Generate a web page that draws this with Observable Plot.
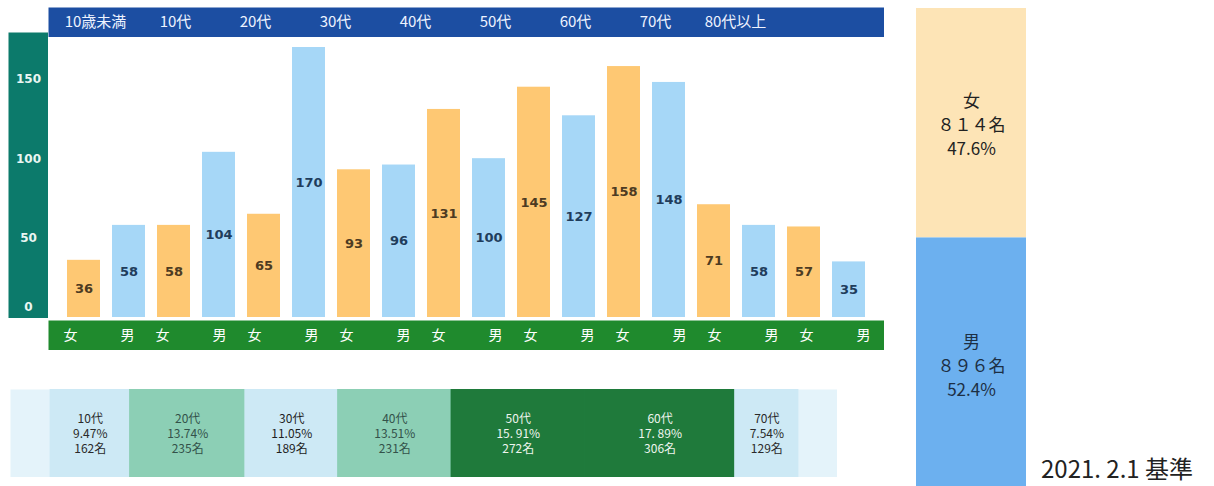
<!DOCTYPE html>
<html>
<head>
<meta charset="utf-8">
<script src="https://cdn.jsdelivr.net/npm/d3@7"></script>
<script src="https://cdn.jsdelivr.net/npm/@observablehq/plot@0.6"></script>
<style>
html, body { margin: 0; padding: 0; background: #fff; overflow: hidden; }
#root { position: relative; width: 1214px; height: 486px; overflow: hidden; background: #fff; font-family: "Noto Sans CJK JP", sans-serif; }
#root > * { position: absolute; }
#caption { left: 1041px; top: 450px; font-size: 24px; color: #222; white-space: nowrap; font-family: "Noto Sans CJK JP", sans-serif; }
</style>
</head>
<body>
<div id="root"></div>
<script>
// ---- data ----
const ageGroups = ["10歳未満", "10代", "20代", "30代", "40代", "50代", "60代", "70代", "80代以上"];
const genders = ["女", "男"];
const femaleCounts = [36, 58, 65, 93, 131, 145, 158, 71, 57];
const maleCounts = [58, 104, 170, 96, 100, 127, 148, 58, 35];
const yTicks = [0, 50, 100, 150];
const tableGroups = ["10代", "20代", "30代", "40代", "50代", "60代", "70代"];
const tableShares = ["9.47%", "13.74%", "11.05%", "13.51%", "15. 91%", "17. 89%", "7.54%"];
const tableCounts = [162, 235, 189, 231, 272, 306, 129];
const genderTotals = [814, 896];
const genderShares = ["47.6%", "52.4%"];
const captionText = "2021. 2.1 基準";

// ---- derived tables ----
const bars = ageGroups.flatMap((g, i) => [
  {key: g + "-女", group: g, gender: "女", value: femaleCounts[i]},
  {key: g + "-男", group: g, gender: "男", value: maleCounts[i]}
]);
const xDomain = bars.map(d => d.key);
const tableData = tableGroups.map((g, i) => ({group: g, share: tableShares[i], count: tableCounts[i]}));
const tableTotal = d3.sum(tableCounts);
const genderData = genders.map((g, i) => ({gender: g, count: genderTotals[i], share: genderShares[i]}));
const genderTotal = d3.sum(genderTotals);
const fullWidth = s => String(s).replace(/\d/g, c => String.fromCharCode(c.charCodeAt(0) + 0xFEE0));

// ---- styles ----
const CJK = "Noto Sans CJK JP";
const barColors = ["#fec873", "#a6d7f7"];
const xBand = {domain: xDomain, paddingInner: 0.26, paddingOuter: 0.217, axis: null};
const cellColor = {"10代": "#cde9f5", "20代": "#8ccfb5", "30代": "#cde9f5", "40代": "#8ccfb5", "50代": "#1f7a3b", "60代": "#1f7a3b", "70代": "#cde9f5"};
const cellText = {"10代": "#2a2a2a", "20代": "#33524a", "30代": "#1e1e1e", "40代": "#33524a", "50代": "#eef5ee", "60代": "#eef5ee", "70代": "#2a2a2a"};

const root = document.getElementById("root");
function place(el, left, top) {
  el.style.left = left + "px";
  el.style.top = top + "px";
  root.appendChild(el);
}

// Banner with age groups
place(Plot.plot({
  width: 836, height: 30, margin: 0,
  style: {fontFamily: CJK, background: "transparent"},
  x: {type: "point", domain: ageGroups, range: [44, 690], padding: 0, axis: null},
  marks: [
    Plot.frame({fill: "#1c4ea2", stroke: null}),
    Plot.text(ageGroups, {x: d => d, frameAnchor: "middle", fill: "#eef3ff", fontSize: 15, fontFamily: CJK})
  ]
}), 48, 7);

// Teal y-axis band
place(Plot.plot({
  width: 40, height: 286, margin: 0,
  style: {background: "transparent"},
  y: {domain: [0, 170], range: [285, 15], axis: null},
  marks: [
    Plot.frame({fill: "#0c7a6b", stroke: null}),
    Plot.text(yTicks.filter(t => t > 0), {y: d => d, text: d => String(d), frameAnchor: "middle", fill: "#eaf6f2", fontSize: 12, fontWeight: "bold", fontFamily: "DejaVu Sans"}),
    Plot.text(yTicks.filter(t => t === 0), {y: d => d, text: d => String(d), frameAnchor: "middle", dy: -10, fill: "#eaf6f2", fontSize: 12, fontWeight: "bold", fontFamily: "DejaVu Sans"})
  ]
}), 8, 32);

// Main bars
place(Plot.plot({
  width: 836, height: 281, marginLeft: 0, marginRight: 0, marginTop: 10, marginBottom: 1,
  style: {background: "transparent"},
  x: xBand,
  y: {domain: [0, 170], axis: null},
  color: {domain: genders, range: barColors},
  marks: [
    Plot.barY(bars, {x: "key", y: "value", fill: "gender"}),
    Plot.text(bars, {
      x: "key", y: d => d.value / 2, text: d => String(d.value),
      fill: d => d.gender === "女" ? "#4d3b22" : "#1f3d5c",
      fontSize: 13, fontWeight: "bold", fontFamily: "DejaVu Sans"
    })
  ]
}), 48, 37);

// Green gender band
place(Plot.plot({
  width: 836, height: 30, margin: 0,
  style: {background: "transparent"},
  x: xBand,
  marks: [
    Plot.frame({fill: "#1f8a2d", stroke: null}),
    Plot.text(bars.filter(d => d.gender === "女"), {x: "key", text: "gender", frameAnchor: "middle", dx: -5, fill: "#ffffff", fontSize: 14, fontFamily: CJK}),
    Plot.text(bars.filter(d => d.gender === "男"), {x: "key", text: "gender", frameAnchor: "middle", dx: 6, fill: "#ffffff", fontSize: 14, fontFamily: CJK})
  ]
}), 48, 320);

// Bottom age share table
place(Plot.plot({
  width: 827, height: 88, margin: 0,
  style: {background: "transparent"},
  x: {domain: [0, tableTotal], insetLeft: 40, insetRight: 39, axis: null},
  color: {domain: tableGroups, range: tableGroups.map(g => cellColor[g])},
  marks: [
    Plot.frame({fill: "#e4f3fa", stroke: null}),
    Plot.barX(tableData, Plot.stackX({x: "count", fill: "group", stroke: "group", strokeWidth: 0.8})),
    Plot.text(tableData, Plot.stackX({
      x: "count",
      text: d => `${d.group}\n${d.share}\n${d.count}名`,
      fill: d => cellText[d.group],
      fontSize: 12, lineHeight: 1.25, fontFamily: CJK
    }))
  ]
}), 10, 389);

// Right gender total bar
place(Plot.plot({
  width: 110, height: 500, margin: 0,
  style: {background: "transparent"},
  y: {domain: [0, genderTotal], range: [8, 490], axis: null},
  color: {domain: genders, range: ["#fde4b6", "#6cb0ef"]},
  marks: [
    Plot.barY(genderData, Plot.stackY({y: "count", fill: "gender"})),
    Plot.text(genderData, Plot.stackY({
      y: "count",
      text: d => `${d.gender}\n${fullWidth(d.count)}名\n${d.share}`,
      fill: d => d.gender === "女" ? "#222222" : "#1d2f44",
      fontSize: 17, lineHeight: 1.4, fontFamily: CJK
    }))
  ]
}), 916, 0);

// Caption
const cap = document.createElement("div");
cap.id = "caption";
cap.textContent = captionText;
root.appendChild(cap);
</script>
</body>
</html>
